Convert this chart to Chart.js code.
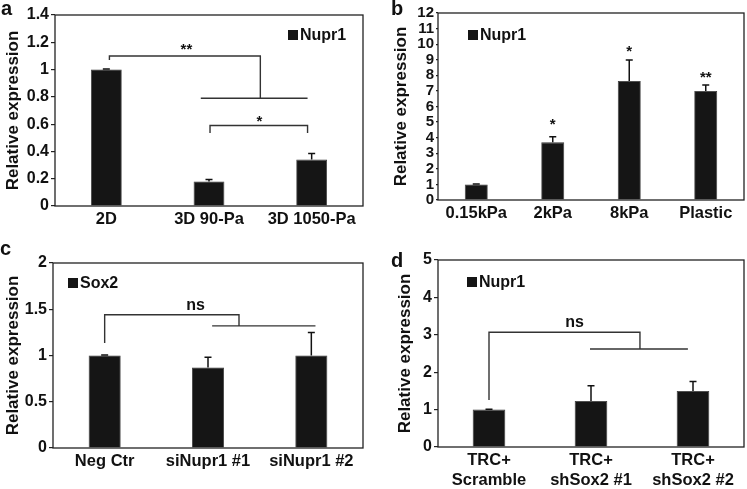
<!DOCTYPE html>
<html>
<head>
<meta charset="utf-8">
<script src="https://cdn.jsdelivr.net/npm/chart.js@4"></script>
<style>
  html, body { margin: 0; padding: 0; background: #fff; }
  #wrap { position: relative; width: 747px; height: 489px; overflow: hidden; }
  #wrap canvas { position: absolute; }
</style>
</head>
<body>
<div id="wrap">
  <canvas id="ca" width="373" height="240" style="left:0;top:0"></canvas>
  <canvas id="cb" width="374" height="240" style="left:373px;top:0"></canvas>
  <canvas id="cc" width="373" height="249" style="left:0;top:240px"></canvas>
  <canvas id="cd" width="374" height="249" style="left:373px;top:240px"></canvas>
</div>
<script>
// a: Nupr1, 2D vs 3D
var catA = ['2D', '3D 90-Pa', '3D 1050-Pa'];
var valA = [1.0, 0.18, 0.34];
var errA = [0.005, 0.015, 0.045];
var tickA = ['0', '0.2', '0.4', '0.6', '0.8', '1', '1.2', '1.4'];
// brackets: points are [category index, value]
var bracketA = [
  [[0.03, 1.07], [0.03, 1.10], [1.5, 1.10], [1.5, 0.79]],
  [[0.92, 0.79], [1.96, 0.79]],
  [[1.01, 0.535], [1.01, 0.59], [1.96, 0.59], [1.96, 0.535]]
];
var markA = [['**', 0.78, 1.114], ['*', 1.49, 0.587]];

// b: Nupr1, stiffness
var catB = ['0.15kPa', '2kPa', '8kPa', 'Plastic'];
var valB = [1.0, 3.7, 7.64, 7.0];
var errB = [0.03, 0.36, 1.35, 0.38];
var tickB = ['0', '1', '2', '3', '4', '5', '6', '7', '8', '9', '10', '11', '12'];
var bracketB = [];
var markB = [['*', 1, 4.56], ['*', 2, 9.24], ['**', 3, 7.57]];

// c: Sox2, siNupr1
var catC = ['Neg Ctr', 'siNupr1 #1', 'siNupr1 #2'];
var valC = [1.0, 0.87, 1.0];
var errC = [0.005, 0.11, 0.25];
var tickC = ['0', '0.5', '1', '1.5', '2'];
var bracketC = [
  [[0, 1.135], [0, 1.44], [1.3, 1.44], [1.3, 1.32]],
  [[1.04, 1.32], [2.04, 1.32]]
];
var markC = [['ns', 0.88, 1.49]];

// d: Nupr1, shSox2
var catD = [['TRC+', 'Scramble'], ['TRC+', 'shSox2 #1'], ['TRC+', 'shSox2 #2']];
var valD = [1.0, 1.23, 1.5];
var errD = [0.01, 0.41, 0.25];
var tickD = ['0', '1', '2', '3', '4', '5'];
var bracketD = [
  [[0, 1.26], [0, 3.07], [1.48, 3.07], [1.48, 2.62]],
  [[0.99, 2.62], [1.95, 2.62]]
];
var markD = [['ns', 0.84, 3.21]];

var FONT = '"Liberation Sans", Arial, Helvetica, sans-serif';
Chart.defaults.font.family = FONT;
Chart.defaults.color = '#111';

// error bars, brackets, significance marks, frame, legend, panel letter
var extras = {
  id: 'extras',
  afterDatasetsDraw: function(chart, args, o) {
    var ctx = chart.ctx, sx = chart.scales.x, sy = chart.scales.y, a = chart.chartArea;
    var ds = chart.data.datasets[0];
    var meta = chart.getDatasetMeta(0);
    ctx.save();
    ctx.strokeStyle = '#111';
    ctx.lineWidth = 1.5;
    meta.data.forEach(function(bar, i) {
      var e = ds.err[i];
      if (!e) return;
      var top = sy.getPixelForValue(ds.data[i] + e);
      ctx.beginPath();
      ctx.moveTo(bar.x, bar.y);
      ctx.lineTo(bar.x, top);
      ctx.moveTo(bar.x - 3.5, top);
      ctx.lineTo(bar.x + 3.5, top);
      ctx.stroke();
    });

    ctx.lineWidth = 1.4;
    ctx.strokeStyle = '#333';
    o.brackets.forEach(function(path) {
      ctx.beginPath();
      path.forEach(function(p, k) {
        var px = sx.getPixelForValue(p[0]), py = sy.getPixelForValue(p[1]);
        if (k === 0) ctx.moveTo(px, py); else ctx.lineTo(px, py);
      });
      ctx.stroke();
    });

    ctx.fillStyle = '#111';
    ctx.textAlign = 'center';
    ctx.textBaseline = 'alphabetic';
    o.marks.forEach(function(m) {
      ctx.font = 'bold ' + (m[0] === 'ns' ? 16 : 15) + 'px ' + FONT;
      ctx.fillText(m[0], sx.getPixelForValue(m[1]), sy.getPixelForValue(m[2]));
    });

    // plot frame
    ctx.strokeStyle = '#222';
    ctx.lineWidth = 1.3;
    ctx.strokeRect(a.left, a.top, a.right - a.left, a.bottom - a.top);

    // legend inside plot
    ctx.fillStyle = '#151515';
    ctx.fillRect(o.legX, o.legY - 5, 10, 10);
    ctx.fillStyle = '#111';
    ctx.textAlign = 'left';
    ctx.textBaseline = 'middle';
    ctx.font = 'bold 16px ' + FONT;
    ctx.fillText(ds.label, o.legX + 12, o.legY + 1);

    // panel letter
    ctx.textBaseline = 'alphabetic';
    ctx.font = 'bold 20px ' + FONT;
    ctx.fillText(o.letter, o.letX, o.letY);
    ctx.restore();
  }
};

function makeChart(id, cats, vals, errs, ticks, yMax, yStep, gene, brackets, marks, geo) {
  return new Chart(document.getElementById(id), {
    type: 'bar',
    data: {
      labels: cats,
      datasets: [{
        label: gene,
        data: vals,
        err: errs,
        backgroundColor: '#151515',
        borderColor: '#333',
        borderWidth: 0.8,
        barPercentage: geo.bar,
        categoryPercentage: 1
      }]
    },
    options: {
      responsive: false,
      animation: false,
      layout: { padding: { top: geo.top, right: geo.right, left: 0, bottom: 0 } },
      plugins: {
        legend: { display: false },
        tooltip: { enabled: false },
        extras: {
          brackets: brackets, marks: marks,
          legX: geo.legX, legY: geo.legY,
          letter: geo.letter, letX: geo.letX, letY: geo.letY
        }
      },
      scales: {
        x: {
          grid: { display: false, drawTicks: false },
          border: { display: false },
          ticks: { font: { size: 16.5, weight: 'bold' }, padding: 4, maxRotation: 0, autoSkip: false, color: '#111' },
          afterFit: function(s) { s.height = geo.xh; }
        },
        y: {
          min: 0,
          max: yMax,
          grid: { display: true, drawOnChartArea: false, drawTicks: true, tickLength: geo.tickLen, color: '#222', lineWidth: 1.2 },
          border: { display: false },
          ticks: {
            stepSize: yStep, autoSkip: false, padding: 2, color: '#111',
            font: { size: geo.yfont, weight: 'bold' },
            callback: function(v, i) { return ticks[i]; }
          },
          title: {
            display: true, text: 'Relative expression', color: '#111',
            font: { size: 17, weight: 'bold' }, padding: { top: geo.tpad, bottom: 0 }
          },
          afterFit: function(s) { s.width = geo.yw; }
        }
      }
    },
    plugins: [extras]
  });
}

makeChart('ca', catA, valA, errA, tickA, 1.4, 0.2, 'Nupr1', bracketA, markA,
  { top: 15, right: 10, xh: 34, yw: 55, bar: 0.30, yfont: 16, tpad: 3, tickLen: 4,
    legX: 288, legY: 35, letter: 'a', letX: 1, letY: 15 });
makeChart('cb', catB, valB, errB, tickB, 12, 1, 'Nupr1', bracketB, markB,
  { top: 13, right: 3, xh: 40, yw: 65, bar: 0.30, yfont: 15, tpad: 18, tickLen: 2,
    legX: 95, legY: 35, letter: 'b', letX: 18, letY: 15 });
makeChart('cc', catC, valC, errC, tickC, 2, 0.5, 'Sox2', bracketC, markC,
  { top: 23, right: 10, xh: 41, yw: 53, bar: 0.31, yfont: 16, tpad: 3, tickLen: 4,
    legX: 68, legY: 43, letter: 'c', letX: 0, letY: 15 });
makeChart('cd', catD, valD, errD, tickD, 5, 1, 'Nupr1', bracketD, markD,
  { top: 20, right: 3, xh: 42, yw: 65, bar: 0.32, yfont: 16, tpad: 22, tickLen: 4,
    legX: 94, legY: 42, letter: 'd', letX: 18, letY: 27 });
</script>
</body>
</html>
